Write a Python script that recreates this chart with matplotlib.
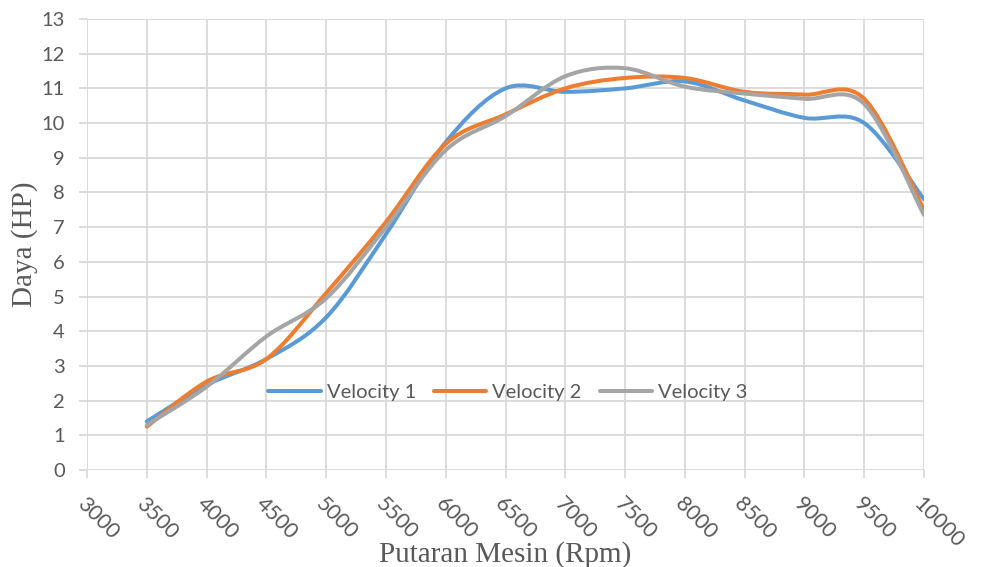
import matplotlib
matplotlib.use("Agg")
import matplotlib.pyplot as plt
import numpy as np
from matplotlib.lines import Line2D
from matplotlib.path import Path
from matplotlib.patches import PathPatch

# data
rpm = [3500, 4000, 4500, 5000, 5500, 6000, 6500, 7000, 7500, 8000, 8500, 9000, 9500, 10000]
velocity_1 = [1.4, 2.45, 3.2, 4.4, 6.8, 9.45, 11.0, 10.9, 11.0, 11.2, 10.65, 10.15, 10.0, 7.8]
velocity_2 = [1.25, 2.55, 3.2, 5.1, 7.15, 9.4, 10.25, 11.0, 11.3, 11.3, 10.9, 10.82, 10.7, 7.5]
velocity_3 = [1.3, 2.4, 3.85, 4.95, 7.0, 9.22, 10.2, 11.35, 11.58, 11.05, 10.85, 10.7, 10.55, 7.35]
series_names = ["Velocity 1", "Velocity 2", "Velocity 3"]
x_ticks = list(range(3000, 10001, 500))
y_ticks = list(range(0, 14))

colors = ["#5B9BD5", "#ED7D31", "#A5A5A5"]
grid_col = "#D9D9D9"
txt_col = "#595959"


def smooth_path(x, y):
    # excel style smoothed line: cubic bezier segments, catmull-rom tangents
    pts = np.column_stack([x, y]).astype(float)
    n = len(pts)
    verts = [pts[0]]
    codes = [Path.MOVETO]
    for i in range(n - 1):
        p0 = pts[max(i - 1, 0)]
        p1 = pts[i]
        p2 = pts[i + 1]
        p3 = pts[min(i + 2, n - 1)]
        c1 = p1 + (p2 - p0) / 6.0
        c2 = p2 - (p3 - p1) / 6.0
        verts += [c1, c2, p2]
        codes += [Path.CURVE4] * 3
    return Path(verts, codes)


fig = plt.figure(figsize=(9.81, 5.67), dpi=100)
ax = fig.add_axes([0.0887, 0.171, 0.8532, 0.7955])

ax.set_xlim(3000, 10000)
ax.set_ylim(0, 13)
ax.set_xticks(x_ticks)
ax.set_yticks(y_ticks)
ax.grid(True, color=grid_col, linewidth=1.3)
ax.set_axisbelow(True)
for s in ax.spines.values():
    s.set_visible(False)

handles = []
for vals, c, name in zip([velocity_1, velocity_2, velocity_3], colors, series_names):
    patch = PathPatch(smooth_path(rpm, vals), facecolor="none", edgecolor=c,
                      linewidth=2.9, capstyle="round", joinstyle="round", zorder=3)
    ax.add_patch(patch)
    handles.append(Line2D([], [], color=c, linewidth=2.9, solid_capstyle="round"))

ax.tick_params(axis="x", length=6, width=1.3, color=grid_col, pad=11, labelsize=15.5, labelcolor=txt_col)
ax.tick_params(axis="y", length=6, width=1.3, color=grid_col, pad=10, labelsize=14.5, labelcolor=txt_col)
for lab in ax.get_xticklabels():
    lab.set_rotation(-45)
    lab.set_ha("left")
    lab.set_va("top")
    lab.set_rotation_mode("anchor")
    lab.set_family("Lato")
for lab in ax.get_yticklabels():
    lab.set_family("Lato")

ax.set_xlabel("Putaran Mesin (Rpm)", family="Liberation Serif", fontsize=21, color=txt_col, va="baseline")
ax.xaxis.set_label_coords(0.5, -0.204)
ax.set_ylabel("Daya (HP)", family="Liberation Serif", fontsize=21, color=txt_col,
              va="baseline", ha="center")
ax.yaxis.set_label_coords(-0.0657, 0.5)

leg = ax.legend(handles, series_names, loc="center", bbox_to_anchor=(0.503, 0.172), ncol=3,
                frameon=False, handlelength=2.6, columnspacing=0.9, handletextpad=0.3,
                prop={"family": "Lato", "size": 14.5})
for t in leg.get_texts():
    t.set_color(txt_col)

fig.savefig("out.png", dpi=100)
